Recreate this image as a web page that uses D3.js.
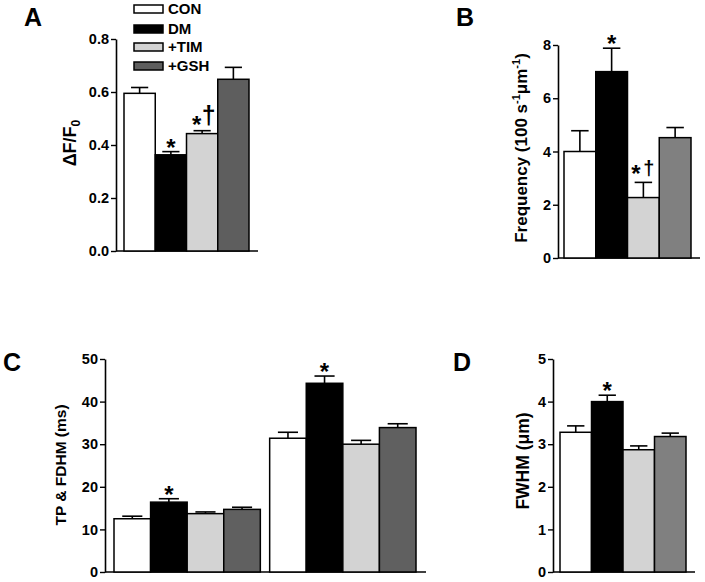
<!DOCTYPE html>
<html>
<head>
<meta charset="utf-8">
<script src="https://cdn.jsdelivr.net/npm/d3@7"></script>
<style>
  body { margin: 0; background: #fff; }
  svg { font-family: "Liberation Sans", Arial, sans-serif; font-weight: bold; }
</style>
</head>
<body>
<div id="chart"></div>
<script>
// groups shown in every panel
const groups = ['CON', 'DM', '+TIM', '+GSH'];

// panel A: amplitude dF/F0
const ampMean = [0.595, 0.363, 0.443, 0.648];
const ampErr = [0.022, 0.012, 0.011, 0.045];
const ampSig = ['', '*', '*†', ''];

// panel B: spark frequency
const freqMean = [4.0, 7.0, 2.27, 4.52];
const freqErr = [0.78, 0.88, 0.57, 0.38];
const freqSig = ['', '*', '*†', ''];

// panel C: TP and FDHM
const timeSets = ['TP', 'FDHM'];
const tpMean = [12.5, 16.4, 13.7, 14.7];
const tpErr = [0.6, 0.8, 0.4, 0.5];
const fdhmMean = [31.4, 44.3, 30.0, 33.9];
const fdhmErr = [1.4, 1.7, 0.9, 0.9];
const timeSig = [['', '*', '', ''], ['', '*', '', '']];

// panel D: FWHM
const fwhmMean = [3.28, 4.0, 2.87, 3.18];
const fwhmErr = [0.15, 0.15, 0.09, 0.08];
const fwhmSig = ['', '*', '', ''];

// tick values
const ampTicks = [0, 0.2, 0.4, 0.6, 0.8];
const freqTicks = [0, 2, 4, 6, 8];
const timeTicks = [0, 10, 20, 30, 40, 50];
const fwhmTicks = [0, 1, 2, 3, 4, 5];

const svg = d3.select('#chart').append('svg')
  .attr('width', 705)
  .attr('height', 582);

function drawPanel(p) {
  const g = svg.append('g');
  const y = d3.scaleLinear().domain(p.domain).range([p.y0, p.y1]);

  // y axis
  const axis = g.append('g')
    .attr('transform', `translate(${p.ax},0)`)
    .call(d3.axisLeft(y).tickValues(p.ticks).tickSize(5).tickSizeOuter(0).tickPadding(2)
      .tickFormat(p.fmt));
  axis.select('.domain').attr('stroke', '#000').attr('stroke-width', 1.6);
  axis.selectAll('.tick line').attr('stroke-width', 1.4);
  axis.selectAll('.tick text')
    .attr('font-size', 14.5)
    .attr('font-family', '"Liberation Sans", Arial, sans-serif')
    .attr('font-weight', 'bold')
    .attr('fill', '#000');

  // x baseline
  g.append('line')
    .attr('x1', p.ax).attr('x2', p.axEnd)
    .attr('y1', p.y0).attr('y2', p.y0)
    .attr('stroke', '#000').attr('stroke-width', 1.6);

  const outer = d3.scaleBand()
    .domain(d3.range(p.sets.length))
    .range(p.barRange)
    .paddingInner(p.sets.length > 1 ? 0.06 : 0);

  const colors = ['#ffffff', '#000000', '#d3d3d3', p.gsh];

  p.sets.forEach((s, si) => {
    const x = d3.scaleBand().domain(groups).range([outer(si), outer(si) + outer.bandwidth()]);
    const bw = x.bandwidth();
    const cap = bw * 0.55;
    groups.forEach((k, i) => {
      const cx = x(k) + bw / 2;
      const top = y(s.mean[i] + s.err[i]);
      // error bar
      g.append('line')
        .attr('x1', cx).attr('x2', cx)
        .attr('y1', y(s.mean[i])).attr('y2', top)
        .attr('stroke', '#000').attr('stroke-width', 1.6);
      g.append('line')
        .attr('x1', cx - cap / 2).attr('x2', cx + cap / 2)
        .attr('y1', top).attr('y2', top)
        .attr('stroke', '#000').attr('stroke-width', 1.6);
      // bar
      g.append('rect')
        .attr('x', x(k)).attr('width', bw)
        .attr('y', y(s.mean[i])).attr('height', y(0) - y(s.mean[i]))
        .attr('fill', colors[i])
        .attr('stroke', '#000').attr('stroke-width', 1.5);
      // significance marks
      const sig = s.sig[i];
      if (sig) {
        if (sig.includes('†')) {
          g.append('text').attr('x', cx + p.starDx).attr('y', top + p.starLift)
            .attr('text-anchor', 'middle').attr('font-size', 24).text('*');
          g.append('text').attr('x', cx + p.dagDx).attr('y', top + p.dagLift)
            .attr('text-anchor', 'middle').attr('font-size', p.dagSize).text('†');
        } else {
          g.append('text').attr('x', cx).attr('y', top + 4)
            .attr('text-anchor', 'middle').attr('font-size', 24).text('*');
        }
      }
    });
  });

  // panel letter
  g.append('text')
    .attr('x', p.letter[0]).attr('y', p.letter[1])
    .attr('font-size', 25).text(p.name);

  // y title
  const t = g.append('text')
    .attr('transform', `translate(${p.title[0]},${p.title[1]}) rotate(-90)`)
    .attr('text-anchor', 'middle')
    .attr('font-size', p.titleSize);
  p.label(t);
}

// A
drawPanel({
  name: 'A', letter: [24, 26],
  domain: [0, 0.8], y0: 251, y1: 39, ax: 116, axEnd: 258, barRange: [124, 249],
  ticks: ampTicks, fmt: d3.format('.1f'), gsh: '#5e5e5e',
  sets: [{ mean: ampMean, err: ampErr, sig: ampSig }],
  starDx: -5.5, starLift: 2, dagDx: 6.5, dagLift: -6.5, dagSize: 25,
  title: [76, 143], titleSize: 18,
  label: t => {
    t.append('tspan').text('ΔF/F');
    t.append('tspan').attr('font-size', 12).attr('dy', 4).text('0');
  }
});

// B
drawPanel({
  name: 'B', letter: [456, 26],
  domain: [0, 8], y0: 258, y1: 45, ax: 558, axEnd: 700, barRange: [564, 691],
  ticks: freqTicks, fmt: d3.format('d'), gsh: '#808080',
  sets: [{ mean: freqMean, err: freqErr, sig: freqSig }],
  starDx: -7.5, starLift: 0, dagDx: 5.5, dagLift: -7, dagSize: 20,
  title: [527, 148], titleSize: 17,
  label: t => {
    t.append('tspan').text('Frequency (100 s');
    t.append('tspan').attr('font-size', 11).attr('dy', -7).text('-1');
    t.append('tspan').attr('dy', 7).text('μm');
    t.append('tspan').attr('font-size', 11).attr('dy', -7).text('-1');
    t.append('tspan').attr('dy', 7).text(')');
  }
});

// C
drawPanel({
  name: 'C', letter: [3, 371],
  domain: [0, 50], y0: 572, y1: 359, ax: 105, axEnd: 426, barRange: [114, 416],
  ticks: timeTicks, fmt: d3.format('d'), gsh: '#606060',
  sets: [
    { mean: tpMean, err: tpErr, sig: timeSig[0] },
    { mean: fdhmMean, err: fdhmErr, sig: timeSig[1] }
  ],
  title: [66, 465], titleSize: 15.5,
  label: t => t.text('TP & FDHM (ms)')
});

// D
drawPanel({
  name: 'D', letter: [453, 371],
  domain: [0, 5], y0: 572, y1: 359, ax: 553, axEnd: 695, barRange: [560, 686],
  ticks: fwhmTicks, fmt: d3.format('d'), gsh: '#808080',
  sets: [{ mean: fwhmMean, err: fwhmErr, sig: fwhmSig }],
  title: [529, 461], titleSize: 17.5,
  label: t => t.text('FWHM (μm)')
});

// legend
const legColors = ['#ffffff', '#000000', '#d3d3d3', '#5e5e5e'];
const legY = [9, 29, 47, 66];
const leg = svg.append('g');
groups.forEach((k, i) => {
  leg.append('rect')
    .attr('x', 134).attr('y', legY[i] - 4)
    .attr('width', 29).attr('height', 8)
    .attr('fill', legColors[i]).attr('stroke', '#000').attr('stroke-width', 1.5);
  leg.append('text')
    .attr('x', 168).attr('y', legY[i])
    .attr('dy', '0.36em')
    .attr('font-size', 15).text(k);
});
</script>
</body>
</html>
